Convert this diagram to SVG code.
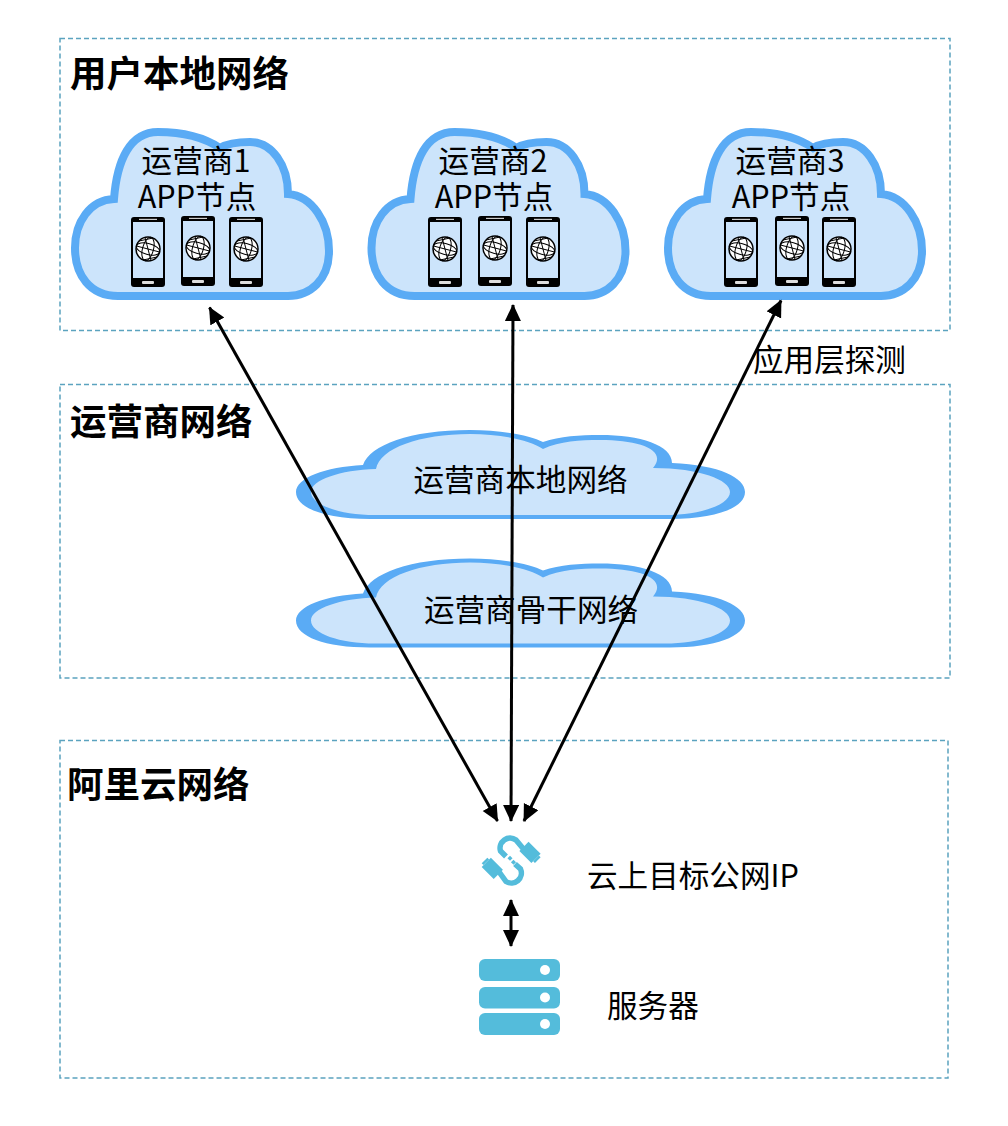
<svg xmlns="http://www.w3.org/2000/svg" width="1008" height="1126" viewBox="0 0 1008 1126">
<style>
text{font-family:"Noto Sans CJK SC","Liberation Sans",sans-serif;fill:#000}
.t{font-size:36.500px;font-weight:700}
.l{font-size:30.600px}
.m{text-anchor:middle}
.frame{fill:none;stroke:#5ba3bf;stroke-width:1.500;stroke-dasharray:5 3}
.cloud{fill:#cce4fb;stroke:#5aabf5;stroke-width:8;stroke-linejoin:miter}
.wo{fill:#5aabf5}
.wi{fill:#cce4fb}
.arrow{fill:none;stroke:#000;stroke-width:3;marker-start:url(#ah);marker-end:url(#ah)}
.icon{fill:#54bcdb}
.hook{fill:none;stroke:#54bcdb;stroke-width:5.500}
</style>
<defs>
<marker id="ah" markerUnits="userSpaceOnUse" markerWidth="18" markerHeight="18" refX="16" refY="8" orient="auto-start-reverse"><path d="M0 0L17 8L0 16Z" fill="#000"/></marker>
<path id="cloudshape" class="cloud" d="M114 199C117 160 130 132 158 132C185 132 205 138 220 148C228 143 238 142 250 142C272 142 288 165 288 194C312 196 329 222 329 251C329 280 310 296 288 296H118C90 296 75 275 75 248C75 222 90 200 114 199Z"/>
<g id="widecloud">
<path class="wo" d="M363 465C370 445 410 430 470 430C500 430 530 435 543 442C560 436 580 435 600 435C640 435 672 445 672 463C720 465 745 478 745 492C745 508 715 519 670 519H370C325 519 296 508 296 492C296 478 325 467 363 465Z"/>
<path class="wi" d="M376 469C380 448 420 434 470 434C500 434 530 440 543 449C560 441 580 440 600 440C640 440 668 450 653 468C700 468 730 480 730 492C730 505 700 515 665 515H375C340 515 311 505 311 492C311 480 340 470 376 469Z"/>
</g>
<g id="phone">
<rect x="0" y="0" width="34" height="70" rx="3" fill="#000"/>
<rect x="2" y="5" width="30" height="56" fill="#cce4fb"/>
<rect x="11" y="64" width="12" height="3" rx="1" fill="#ddd"/>
<rect x="8" y="1.800" width="18" height="1.200" fill="#ccc"/>
<g transform="translate(17 32)" fill="none" stroke="#000" stroke-width="1">
<circle r="12" fill="#fff" stroke-width="1.500"/>
<ellipse rx="5.500" ry="12" transform="rotate(15)"/>
<ellipse rx="12" ry="5.500" transform="rotate(15)"/>
<path d="M-11.500 -3L11.500 3M-3 -11.500L3 11.500M-9 -8L5 -11M-5 11L9 8"/>
</g>
</g>
</defs>
<g id="frame-user"><rect class="frame" x="60" y="38.500" width="890" height="292"/><text class="t" x="70" y="87">用户本地网络</text></g>
<g id="frame-carrier"><rect class="frame" x="60" y="384.500" width="890" height="293.500"/><text class="t" x="70" y="435">运营商网络</text></g>
<g id="frame-aliyun"><rect class="frame" x="60" y="740.500" width="888" height="337.500"/><text class="t" x="67" y="798">阿里云网络</text></g>

<g id="cloud-app1">
<use href="#cloudshape"/>
<text class="l m"><tspan x="196" y="172">运营商1</tspan><tspan x="197" y="208">APP节点</tspan></text>
<use href="#phone" x="131" y="217"/><use href="#phone" x="181" y="216"/><use href="#phone" x="229" y="217"/>
</g>
<g id="cloud-app2">
<use href="#cloudshape" x="296.500"/>
<text class="l m"><tspan x="493" y="172">运营商2</tspan><tspan x="494" y="208">APP节点</tspan></text>
<use href="#phone" x="428" y="217"/><use href="#phone" x="478" y="216"/><use href="#phone" x="526" y="217"/>
</g>
<g id="cloud-app3">
<use href="#cloudshape" x="593"/>
<text class="l m"><tspan x="790" y="172">运营商3</tspan><tspan x="791" y="208">APP节点</tspan></text>
<use href="#phone" x="724" y="217"/><use href="#phone" x="775" y="216"/><use href="#phone" x="822" y="217"/>
</g>
<g id="cloud-local">
<use href="#widecloud"/>
<text class="l m" x="520.500" y="491">运营商本地网络</text>
</g>
<g id="cloud-backbone">
<use href="#widecloud" y="128.500"/>
<text class="l m" x="531" y="621">运营商骨干网络</text>
</g>
<g id="connectors">
<path class="arrow" d="M209.500 307.500L497.500 821"/>
<path class="arrow" d="M513 305L511 821"/>
<path class="arrow" d="M781 300.500L524 821"/>
<path class="arrow" d="M511 900V946"/>
</g>
<text id="label-probe" class="l" x="753" y="371">应用层探测</text>
<g id="node-ip">
<path class="hook" d="M526 852L516 840A10 10 0 0 0 500.500 851L506 856.500"/>
<path class="hook" d="M497 869L506 881.500A10 10 0 0 0 520.500 869L515 864"/>
<g class="icon">
<g transform="translate(530 852.300) rotate(45)"><rect x="-8.500" y="-6.500" width="17" height="13"/><rect x="8.500" y="-4" width="2.500" height="8"/></g>
<g transform="translate(492.300 868.300) rotate(45)"><rect x="-8.500" y="-6.500" width="17" height="13"/><rect x="-11" y="-4" width="2.500" height="8"/></g>
<rect x="-1.800" y="-1.800" width="3.600" height="3.600" transform="translate(510 858.300) rotate(45)"/>
<rect x="-1.800" y="-1.800" width="3.600" height="3.600" transform="translate(513.500 862.300) rotate(45)"/>
</g>
<text class="l" x="587" y="887">云上目标公网IP</text>
</g>
<g id="node-server">
<rect class="icon" x="479" y="959" width="81" height="22" rx="6"/>
<rect class="icon" x="479" y="987" width="81" height="21.500" rx="6"/>
<rect class="icon" x="479" y="1013" width="81" height="22" rx="6"/>
<circle cx="545" cy="970" r="5" fill="#fff"/><circle cx="545" cy="997.500" r="5" fill="#fff"/><circle cx="545" cy="1024" r="5" fill="#fff"/>
<text class="l" x="607" y="1017">服务器</text>
</g>
</svg>
